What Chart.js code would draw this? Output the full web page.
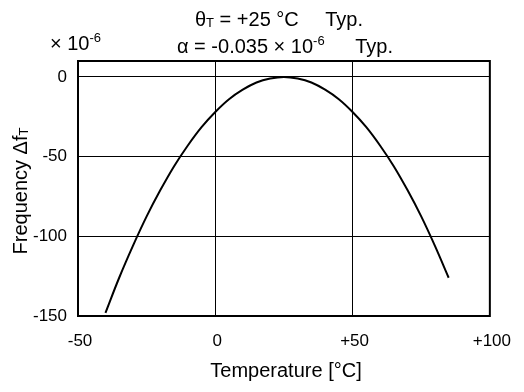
<!DOCTYPE html>
<html>
<head>
<meta charset="utf-8">
<script src="https://cdn.jsdelivr.net/npm/chart.js@4/dist/chart.umd.min.js"></script>
<style>
  html, body { margin: 0; padding: 0; background: #fff; }
  #wrap { width: 524px; height: 392px; }
</style>
</head>
<body>
<div id="wrap"><canvas id="c" width="524" height="392"></canvas></div>
<script>
// Data
const temperatures = [-40, -35, -30, -25, -20, -15, -10, -5, 0, 5, 10, 15, 20, 25, 30, 35, 40, 45, 50, 55, 60, 65, 70, 75, 80, 85];
const deltaF = [-148, -126, -106, -87.5, -71, -56, -43, -31.5, -22, -14, -8, -3.5, -1, 0, -1, -3.5, -8, -14, -22, -31.5, -43, -56, -71, -87.5, -106, -126];
const xTickValues = [-50, 0, 50, 100];
const yTickValues = [-150, -100, -50, 0];

const FONT = '"Liberation Sans", Arial, sans-serif';

function drawRuns(ctx, runs, x, y) {
  let cx = x;
  for (const r of runs) {
    ctx.font = r.size + 'px ' + FONT;
    ctx.fillText(r.t, cx, y + (r.dy || 0));
    cx += ctx.measureText(r.t).width;
  }
  return cx;
}
function runsWidth(ctx, runs) {
  let w = 0;
  for (const r of runs) {
    ctx.font = r.size + 'px ' + FONT;
    w += ctx.measureText(r.t).width;
  }
  return w;
}

const textPlugin = {
  id: 'texts',
  afterDraw(chart) {
    const ctx = chart.ctx;
    const a = chart.chartArea;
    ctx.save();
    // frame
    ctx.strokeStyle = '#000';
    ctx.lineWidth = 2;
    ctx.strokeRect(a.left, a.top, a.right - a.left, a.bottom - a.top);

    ctx.fillStyle = '#000';
    ctx.textBaseline = 'alphabetic';
    ctx.textAlign = 'left';
    // header line 1
    drawRuns(ctx, [
      {t: 'θ', size: 20},
      {t: 'T', size: 13, dy: 1},
      {t: ' = +25 °C', size: 20}
    ], 195, 26);
    ctx.font = '20px ' + FONT;
    ctx.textAlign = 'right';
    ctx.fillText('Typ.', 363, 26);
    ctx.textAlign = 'left';
    // header line 2
    drawRuns(ctx, [
      {t: 'α = -0.035 × 10', size: 20},
      {t: '-6', size: 13, dy: -8}
    ], 177, 53);
    ctx.font = '20px ' + FONT;
    ctx.textAlign = 'right';
    ctx.fillText('Typ.', 393, 53);
    ctx.textAlign = 'left';
    // unit label
    drawRuns(ctx, [
      {t: '× 10', size: 20},
      {t: '-6', size: 13, dy: -8}
    ], 50, 50);

    // x title
    ctx.font = '20px ' + FONT;
    ctx.textAlign = 'center';
    ctx.fillText('Temperature [°C]', 286, 377);

    // y title
    const yRuns = [
      {t: 'Frequency Δf', size: 20},
      {t: 'T', size: 13, dy: 1}
    ];
    ctx.textAlign = 'left';
    const w = runsWidth(ctx, yRuns);
    ctx.translate(27, 191);
    ctx.rotate(-Math.PI / 2);
    drawRuns(ctx, yRuns, -w / 2, 0);
    ctx.restore();
  }
};

new Chart(document.getElementById('c'), {
  type: 'line',
  data: {
    labels: temperatures,
    datasets: [{
      data: temperatures.map((t, i) => ({x: t, y: deltaF[i]})),
      borderColor: '#000',
      borderWidth: 2,
      pointRadius: 0,
      tension: 0.35,
      fill: false
    }]
  },
  options: {
    responsive: false,
    devicePixelRatio: 1,
    animation: false,
    layout: { padding: { left: 0, right: 29, top: 61, bottom: 0 } },
    plugins: { legend: { display: false }, tooltip: { enabled: false }, title: { display: false } },
    scales: {
      x: {
        type: 'linear',
        min: -50, max: 100,
        afterBuildTicks: s => { s.ticks = xTickValues.map(v => ({value: v})); },
        afterFit: s => { s.height = 76; },
        border: { display: false },
        grid: {
          drawTicks: false,
          lineWidth: 1,
          color: c => (c.tick && (c.tick.value === -50 || c.tick.value === 100)) ? 'rgba(0,0,0,0)' : '#000'
        },
        ticks: {
          padding: 15,
          labelOffset: 2,
          color: '#000',
          font: { family: FONT, size: 17 },
          maxRotation: 0,
          callback: v => v > 0 ? '+' + v : String(v)
        }
      },
      y: {
        min: -150, max: 10,
        afterBuildTicks: s => { s.ticks = yTickValues.map(v => ({value: v})); },
        afterFit: s => { s.width = 78; },
        border: { display: false },
        grid: {
          drawTicks: false,
          lineWidth: 1,
          color: c => (c.tick && c.tick.value === -150) ? 'rgba(0,0,0,0)' : '#000'
        },
        ticks: {
          padding: 11,
          color: '#000',
          font: { family: FONT, size: 17 },
          callback: v => String(v)
        }
      }
    }
  },
  plugins: [textPlugin]
});
</script>
</body>
</html>
